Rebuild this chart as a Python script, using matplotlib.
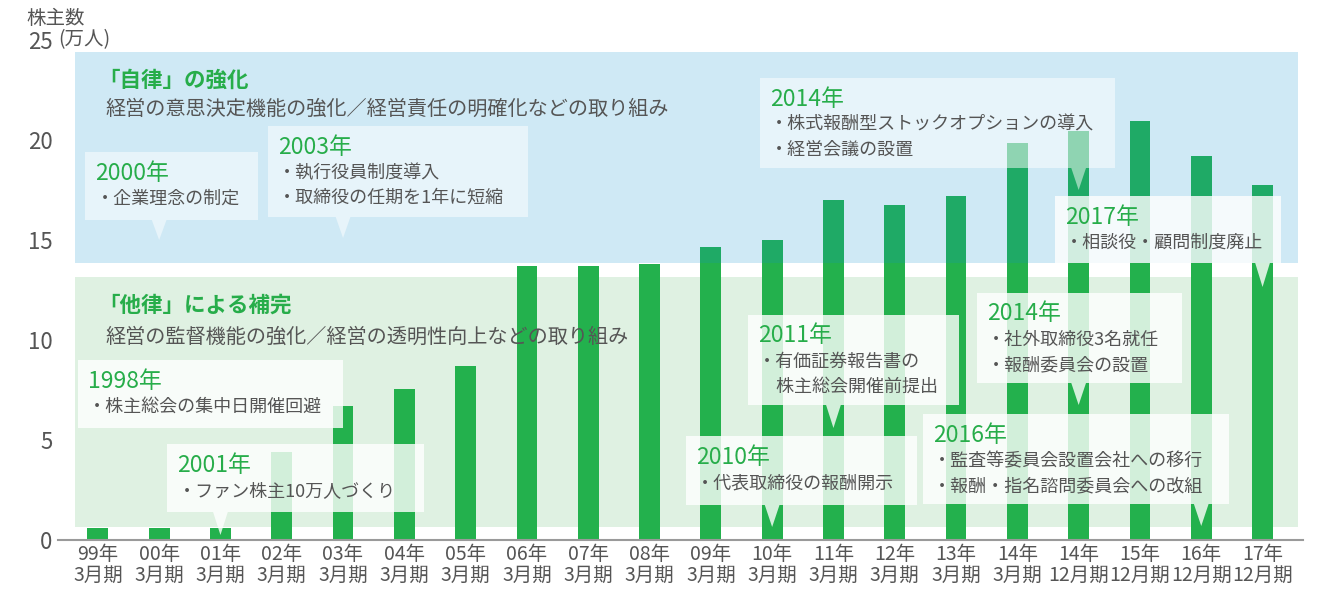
import matplotlib
matplotlib.use('Agg')
import matplotlib.pyplot as plt
from matplotlib.patches import Rectangle, Polygon

plt.rcParams['font.family'] = ['Noto Sans CJK JP', 'DejaVu Sans']

# 株主数（万人）
periods = ['99年\n3月期', '00年\n3月期', '01年\n3月期', '02年\n3月期', '03年\n3月期',
           '04年\n3月期', '05年\n3月期', '06年\n3月期', '07年\n3月期', '08年\n3月期',
           '09年\n3月期', '10年\n3月期', '11年\n3月期', '12年\n3月期', '13年\n3月期',
           '14年\n3月期', '14年\n12月期', '15年\n12月期', '16年\n12月期', '17年\n12月期']
shareholders = [0.6, 0.6, 0.6, 4.4, 6.7, 7.55, 8.7, 13.7, 13.7, 13.8,
                14.65, 15.0, 17.0, 16.75, 17.2, 19.85, 20.45, 20.95, 19.2, 17.75]
yticks = [0, 5, 10, 15, 20, 25]

# 吹き出し：年, 内容, 指す棒の番号
event_years = ['1998年', '2000年', '2001年', '2003年', '2010年',
               '2011年', '2014年', '2014年', '2016年', '2017年']
event_lines = [
    ['・株主総会の集中日開催回避'],
    ['・企業理念の制定'],
    ['・ファン株主10万人づくり'],
    ['・執行役員制度導入', '・取締役の任期を1年に短縮'],
    ['・代表取締役の報酬開示'],
    ['・有価証券報告書の', '\u3000株主総会開催前提出'],
    ['・株式報酬型ストックオプションの導入', '・経営会議の設置'],
    ['・社外取締役3名就任', '・報酬委員会の設置'],
    ['・監査等委員会設置会社への移行', '・報酬・指名諮問委員会への改組'],
    ['・相談役・顧問制度廃止'],
]
event_bar = [None, 1, 2, 4, 11, 12, 16, 16, 18, 19]

GREEN = '#23b14d'
TEXT_GREEN = '#27ad4a'
GRAY = '#555555'

fig = plt.figure(figsize=(13.19, 5.93), dpi=100)
ax = fig.add_axes([58 / 1319, 53 / 593, 1245 / 1319, 530 / 593])
ax.set_xlim(-0.65, 19.66)
ax.set_ylim(0, 26.5)

# 背景の帯
ax.add_patch(Rectangle((-0.375, 0.65), 19.95, 12.5, color='#dff1e2', zorder=0, lw=0))
ax.bar(range(len(shareholders)), shareholders, width=0.34, color=GREEN, zorder=1)
ax.add_patch(Rectangle((-0.375, 13.85), 19.95, 10.55, color=(15/255, 145/255, 205/255),
                       alpha=0.2, zorder=2, lw=0))

ax.text(0.0, 23.0, '「自律」の強化', color=TEXT_GREEN, fontsize=15.5, fontweight='bold',
        va='center', zorder=5)
ax.text(0.13, 21.55, '経営の意思決定機能の強化／経営責任の明確化などの取り組み', color=GRAY,
        fontsize=14.5, va='center', zorder=5)
ax.text(0.0, 11.75, '「他律」による補完', color=TEXT_GREEN, fontsize=15.5, fontweight='bold',
        va='center', zorder=5)
ax.text(0.13, 10.15, '経営の監督機能の強化／経営の透明性向上などの取り組み', color=GRAY,
        fontsize=14.5, va='center', zorder=5)

# 吹き出しの位置 (x0, x1, y0, y1, 先端y, 不透明度)
boxes = [(-0.33, 4.0, 5.6, 9.0, None, 0.8),
         (-0.21, 2.61, 16.0, 19.4, 15.0, 0.5),
         (1.13, 5.32, 1.4, 4.8, 0.25, 0.8),
         (2.77, 7.01, 16.15, 20.7, 15.1, 0.5),
         (9.59, 13.36, 1.75, 5.2, 0.65, 0.8),
         (10.6, 14.05, 6.75, 11.25, 5.6, 0.8),
         (10.8, 16.6, 18.6, 23.1, 17.5, 0.5),
         (14.34, 17.68, 7.85, 12.35, 6.75, 0.8),
         (13.46, 18.45, 1.8, 6.3, 0.7, 0.8),
         (15.61, 19.3, 13.85, 17.2, 12.65, 0.8)]

for (x0, x1, y0, y1, tip, a), year, lines, bar in zip(boxes, event_years, event_lines, event_bar):
    ax.add_patch(Rectangle((x0, y0), x1 - x0, y1 - y0, color='white', alpha=a,
                           zorder=3, lw=0))
    if bar is not None:
        ax.add_patch(Polygon([(bar - 0.12, y0), (bar + 0.12, y0), (bar, tip)],
                             closed=True, color='white', alpha=a, zorder=3, lw=0))
    ax.text(x0 + 0.17, y1 - 1.05, year, color=TEXT_GREEN, fontsize=16.5, va='center', zorder=5)
    for k, line in enumerate(lines):
        ax.text(x0 + 0.17, y1 - 2.35 - 1.25 * k, line, color=GRAY, fontsize=13,
                va='center', zorder=5)

# 軸
for side in ['top', 'right', 'left']:
    ax.spines[side].set_visible(False)
ax.spines['bottom'].set_color('#9a9a9a')
ax.spines['bottom'].set_linewidth(1.5)
ax.spines['bottom'].set_zorder(6)

ax.set_xticks(range(len(periods)))
ax.set_xticklabels(periods, fontsize=14, color=GRAY, linespacing=1.0)
ax.set_yticks(yticks)
ax.set_yticklabels([str(v) for v in yticks], fontsize=16, color=GRAY)
ax.tick_params(axis='both', length=0)
ax.tick_params(axis='y', pad=4)
ax.tick_params(axis='x', pad=3)

ax.text(0.0, 25, '(万人)', transform=ax.get_yaxis_transform(), ha='left', va='center',
        fontsize=14, color=GRAY)
fig.text(26 / 1319, 1 - 19 / 593, '株主数', ha='left', va='center', fontsize=14, color=GRAY)

fig.savefig('out.png', dpi=100)
